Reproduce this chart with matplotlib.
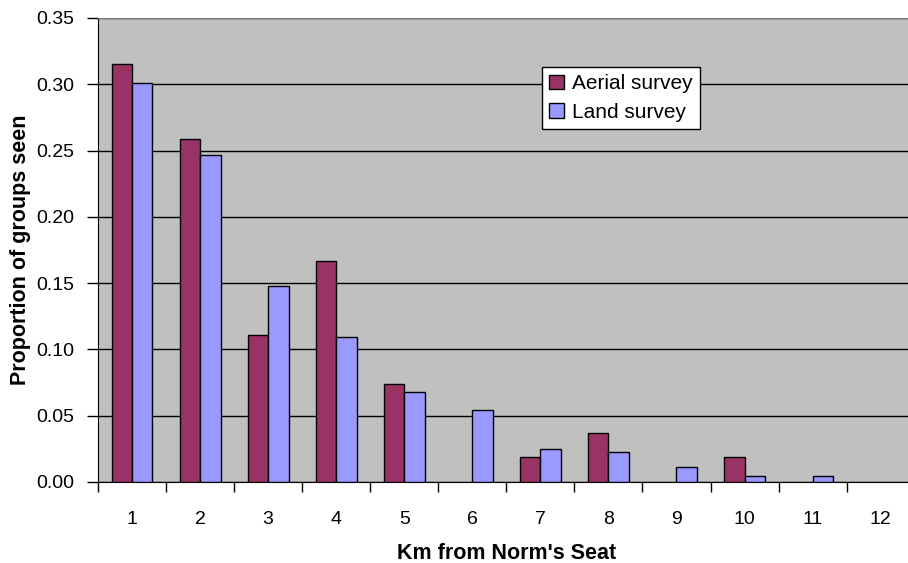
import numpy as np
import matplotlib.pyplot as plt
from matplotlib.ticker import MultipleLocator, FixedLocator

plt.rcParams['font.family'] = ['Liberation Sans', 'DejaVu Sans']

# distance classes (km) and proportions
km = [1, 2, 3, 4, 5, 6, 7, 8, 9, 10, 11, 12]
aerial = [0.315, 0.259, 0.111, 0.167, 0.074, 0.0, 0.0185, 0.037, 0.0, 0.0185, 0.0, 0.0]
land = [0.301, 0.247, 0.148, 0.109, 0.068, 0.054, 0.025, 0.023, 0.011, 0.0045, 0.0045, 0.0]

fig = plt.figure(figsize=(9.08, 5.63), dpi=100)
ax = fig.add_axes([98 / 908, 81 / 563, 816.7 / 908, 464 / 563])
ax.set_facecolor('#C0C0C0')

x = np.array(km)
w = 0.3
# no outline for empty classes
lw_a = [1 if v > 0 else 0 for v in aerial]
lw_l = [1 if v > 0 else 0 for v in land]
ax.bar(x - w / 2, aerial, w, color='#993366', edgecolor='black', linewidth=lw_a,
       label='Aerial survey', zorder=3)
ax.bar(x + w / 2, land, w, color='#9999FF', edgecolor='black', linewidth=lw_l,
       label='Land survey', zorder=3)

ax.set_xlim(0.5, 12.5)
ax.set_ylim(0, 0.35)
ax.yaxis.set_major_locator(MultipleLocator(0.05))
ax.yaxis.set_major_formatter(plt.FormatStrFormatter('%.2f'))
ax.grid(axis='y', color='black', linewidth=1, zorder=1)

ax.set_xticks(x)
ax.set_xticklabels([str(k) for k in km])
ax.xaxis.set_minor_locator(FixedLocator(np.arange(0.5, 13, 1)))
ax.tick_params(axis='x', which='major', length=0, pad=21, labelsize=14)
ax.tick_params(axis='x', which='minor', length=7, width=1, direction='out')
ax.tick_params(axis='y', length=8, width=1, labelsize=14, pad=9)

ax.spines['right'].set_visible(False)
ax.spines['top'].set_color('#808080')
ax.spines['left'].set_color('black')
ax.spines['bottom'].set_color('black')

ax.set_xlabel("Km from Norm's Seat", fontsize=15.5, fontweight='bold', labelpad=11)
ax.set_ylabel('Proportion of groups seen', fontsize=15.5, fontweight='bold', labelpad=4)

leg = fig.legend(loc='upper left', bbox_to_anchor=(542 / 908, 1 - 67 / 563),
                 borderaxespad=0, fontsize=15, fancybox=False, framealpha=1,
                 edgecolor='black', handlelength=0.7, handleheight=0.7,
                 handletextpad=0.4, labelspacing=0.45, borderpad=0.35)
leg.get_frame().set_linewidth(1)

fig.savefig('out.png', dpi=100)
